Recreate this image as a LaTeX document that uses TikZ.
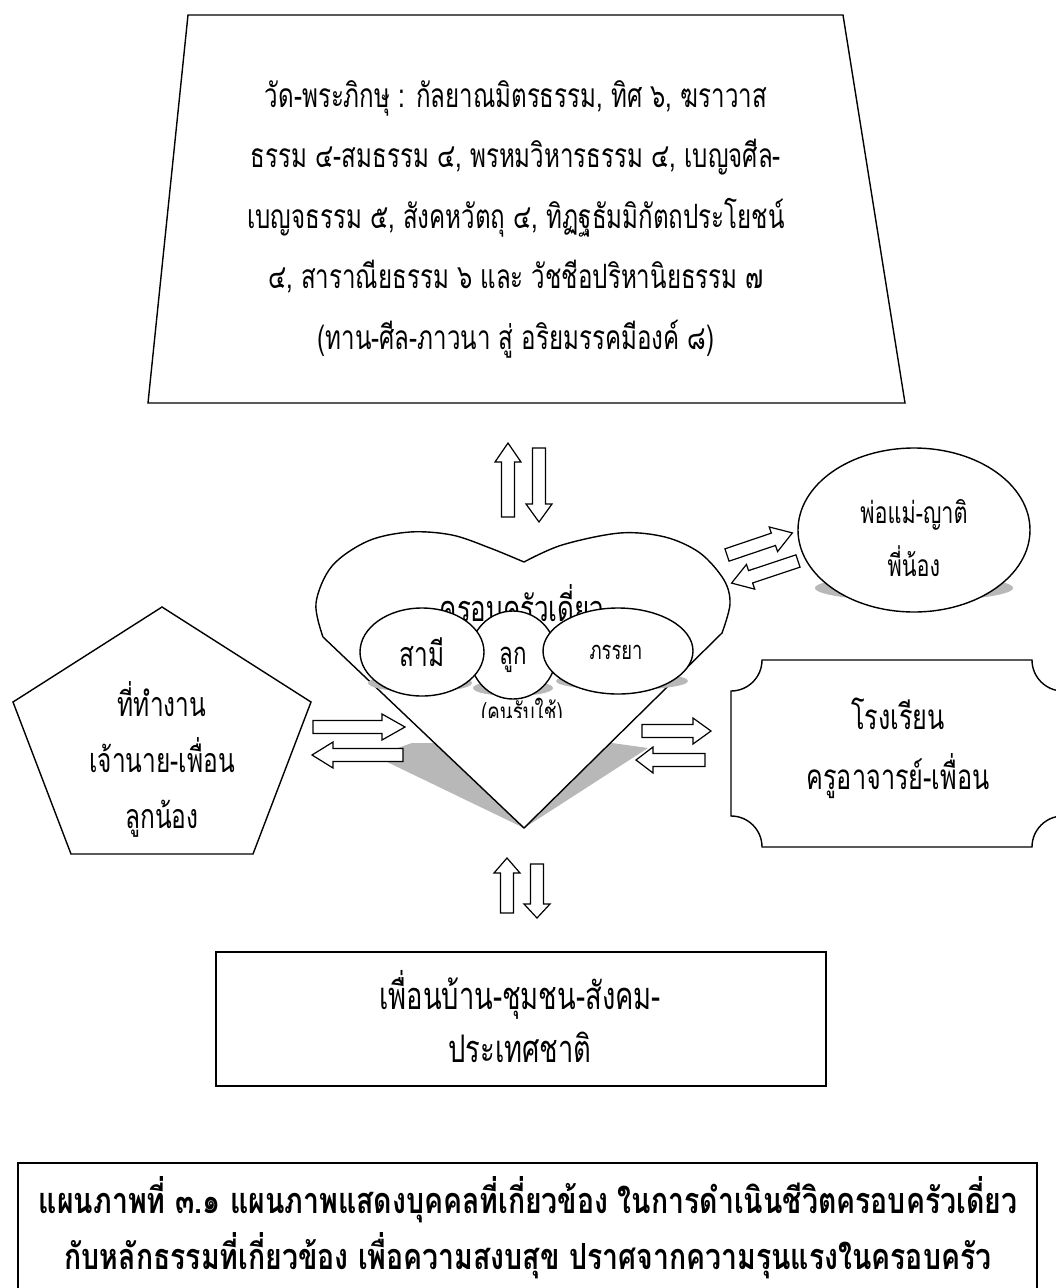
\documentclass[tikz,border=0pt]{standalone}
\usepackage{fontspec}
\newfontfamily\thai[Script=Thai,FakeStretch=0.72]{Loma}
\newfontfamily\thaicap[Script=Thai,FakeStretch=0.79]{Loma}
\usetikzlibrary{calc}
\tikzset{
  shp/.style={draw=black, line width=1.4pt, fill=white},
  blk/.style={draw=black, line width=1.2pt, fill=white, line join=miter},
  shadow/.style={fill=black!28, draw=none},
  txt/.style={font=\thai, inner sep=0pt, align=center},
}
\newcommand{\blkarrow}[6]{% name, x, y, angle, length, headlength
  \begin{scope}[shift={(#2,#3)}, rotate=#4]
    \draw[blk] (0,-6.5) -- ({#5-#6},-6.5) -- ({#5-#6},-13) -- (#5,0) -- ({#5-#6},13) -- ({#5-#6},6.5) -- (0,6.5) -- cycle;
    \coordinate (#1) at (#5,0);
  \end{scope}}
\begin{document}
\begin{tikzpicture}[x=1pt,y=-1pt]
\useasboundingbox (0,0) rectangle (1056,1288);
\clip (0,0) rectangle (1056,1288);
\fill[white] (0,0) rectangle (1056,1288);

% top trapezoid
\draw[shp] (188,15) -- (843,15) -- (905,403) -- (148,403) -- cycle;
\node[txt, font=\thai\fontsize{33.5}{60.5}\selectfont] (temple) at (516,219) {วัด-พระภิกษุ : กัลยาณมิตรธรรม, ทิศ ๖, ฆราวาส\\ธรรม ๔-สมธรรม ๔, พรหมวิหารธรรม ๔, เบญจศีล-\\เบญจธรรม ๕, สังคหวัตถุ ๔, ทิฏฐธัมมิกัตถประโยชน์\\๔, สาราณียธรรม ๖ และ วัชชีอปริหานิยธรรม ๗\\(ทาน-ศีล-ภาวนา สู่ อริยมรรคมีองค์ ๘)};

% heart shadow and heart
\fill[shadow] (524,828) -- (383,760) -- (392,750) -- (412,743) -- (612,743) -- (648,748) -- cycle;
\draw[shp, line join=round] (524,828) -- plot[smooth, tension=0.55] coordinates {(323,637) (316,603) (332,566) (368,541) (410,532) (452,535) (490,548) (524,562)}
  -- plot[smooth, tension=0.55] coordinates {(524,562) (562,545) (620,533) (665,537) (700,553) (724,580) (730,604) (722,633)} -- cycle;
\coordinate (heart) at (524,690);
\node[txt, font=\thai\fontsize{36}{36}\selectfont] (family) at (522,603) {ครอบครัวเดี่ยว};

% ellipse shadows
\fill[shadow] (420,683) ellipse (52 and 9);
\fill[shadow] (513,688) ellipse (40 and 8);
\fill[shadow] (622,681) ellipse (66 and 9);
% ellipses
\draw[shp] (513,655) ellipse (43 and 44);
\draw[shp] (422,652) ellipse (62 and 44);
\draw[shp] (618,651) ellipse (75 and 43);
\node[txt, font=\thai\fontsize{34}{34}\selectfont] (husband) at (422,652) {สามี};
\node[txt, font=\thai\fontsize{31}{31}\selectfont] (child) at (513,660) {ลูก};
\node[txt, font=\thai\fontsize{25.5}{25.5}\selectfont] (wife) at (616,652) {ภรรยา};
\begin{scope}
  \clip (440,690) rectangle (600,717);
  \node[txt, font=\thai\fontsize{26}{26}\selectfont] (servant) at (522,713) {(คนรับใช้)};
\end{scope}

% parents ellipse
\fill[shadow] (914,588) ellipse (99 and 13);
\draw[shp] (914,530) ellipse (116 and 82);
\node[txt, font=\thai\fontsize{30}{53}\selectfont] (parents) at (914,538) {พ่อแม่-ญาติ\\พี่น้อง};

% workplace pentagon
\draw[shp] (162,607) -- (311,702) -- (253,854) -- (71,854) -- (13,702) -- cycle;
\node[txt, font=\thai\fontsize{34}{56}\selectfont] (work) at (162,759) {ที่ทำงาน\\เจ้านาย-เพื่อน\\ลูกน้อง};

% school
\draw[shp] (762,660) -- (1032,660) arc (180:90:31) -- (1063,816) arc (270:180:31) -- (762,847) arc (0:-90:31) -- (731,691) arc (90:0:31) -- cycle;
\node[txt, font=\thai\fontsize{35}{60}\selectfont] (school) at (898,748) {โรงเรียน\\ครูอาจารย์-เพื่อน};

% community box
\draw[shp] (216,952) rectangle (826,1086);
\node[txt, font=\thai\fontsize{38}{53}\selectfont] (community) at (520,1017) {เพื่อนบ้าน-ชุมชน-สังคม-\\ประเทศชาติ};

% caption box
\draw[line width=1.4pt] (18,1298) -- (18,1163) -- (1037,1163) -- (1037,1298);
\node[txt, font=\thaicap\bfseries\fontsize{36}{56}\selectfont] (caption) at (528,1228) {แผนภาพที่ ๓.๑ แผนภาพแสดงบุคคลที่เกี่ยวข้อง ในการดำเนินชีวิตครอบครัวเดี่ยว\\กับหลักธรรมที่เกี่ยวข้อง เพื่อความสงบสุข ปราศจากความรุนแรงในครอบครัว};

% block arrows
\blkarrow{a1}{508}{517}{90}{74}{19}
\blkarrow{a2}{539}{448}{-90}{74}{18}
\blkarrow{a3}{727}{555}{18.7}{69}{20}
\blkarrow{a4}{798}{561}{198.4}{70}{20}
\blkarrow{a5}{313}{727}{0}{92}{23}
\blkarrow{a6}{403}{755}{180}{91}{21}
\blkarrow{a7}{642}{731}{0}{69}{18}
\blkarrow{a8}{705}{760}{180}{69}{17}
\blkarrow{a9}{507}{913}{90}{55}{15}
\blkarrow{a10}{537}{864}{-90}{54}{14}
\end{tikzpicture}
\end{document}
